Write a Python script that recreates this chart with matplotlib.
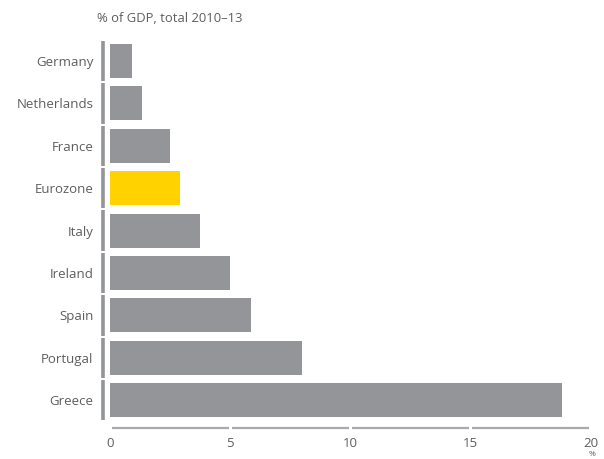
import matplotlib.pyplot as plt
import matplotlib.transforms as mtrans

countries = ['Germany', 'Netherlands', 'France', 'Eurozone', 'Italy',
             'Ireland', 'Spain', 'Portugal', 'Greece']
values = [0.9, 1.33, 2.5, 2.9, 3.75, 5.0, 5.85, 7.97, 18.8]
highlight = 'Eurozone'
xticks = [0, 5, 10, 15, 20]

grey = '#939598'
yellow = '#ffd200'
txt = '#5e5e5e'

plt.rcParams['font.family'] = ['Open Sans', 'DejaVu Sans']

fig = plt.figure(figsize=(6.04, 4.59), dpi=100)
W, H = 604, 459
ax = fig.add_axes([110 / W, 1 - 421.4 / H, 481 / W, 381.6 / H])

pos = list(range(len(countries)))
cols = [yellow if c == highlight else grey for c in countries]
ax.barh(pos, values, height=0.8, color=cols)
ax.set_ylim(len(countries) - 0.5, -0.5)
ax.set_xlim(0, 20)

for s in ax.spines.values():
    s.set_visible(False)

# segmented y axis, one piece per row
tr = mtrans.blended_transform_factory(ax.transAxes, ax.transData)
for i in pos:
    ax.plot([-0.0145, -0.0145], [i - 0.475, i + 0.475], transform=tr,
            color=grey, lw=2.6, solid_capstyle='butt', clip_on=False)

# segmented x axis between ticks
tr2 = mtrans.blended_transform_factory(ax.transData, ax.transAxes)
for a, b in zip(xticks[:-1], xticks[1:]):
    ax.plot([a + 0.07, b - 0.07], [-0.018, -0.018], transform=tr2,
            color='#a7a9ac', lw=1.6, solid_capstyle='butt', clip_on=False)

ax.set_yticks(pos)
ax.set_yticklabels(countries)
ax.set_xticks(xticks)
ax.tick_params(length=0, labelsize=9.5, labelcolor=txt)
ax.tick_params(axis='y', pad=12)
ax.tick_params(axis='x', pad=11.5)

fig.text(97 / W, 1 - 18 / H, '% of GDP, total 2010–13', fontsize=9.4,
         color=txt, va='center', ha='left')
fig.text(592 / W, 1 - 454 / H, '%', fontsize=6, color=txt,
         va='center', ha='center')

fig.savefig('out.png', dpi=100)
